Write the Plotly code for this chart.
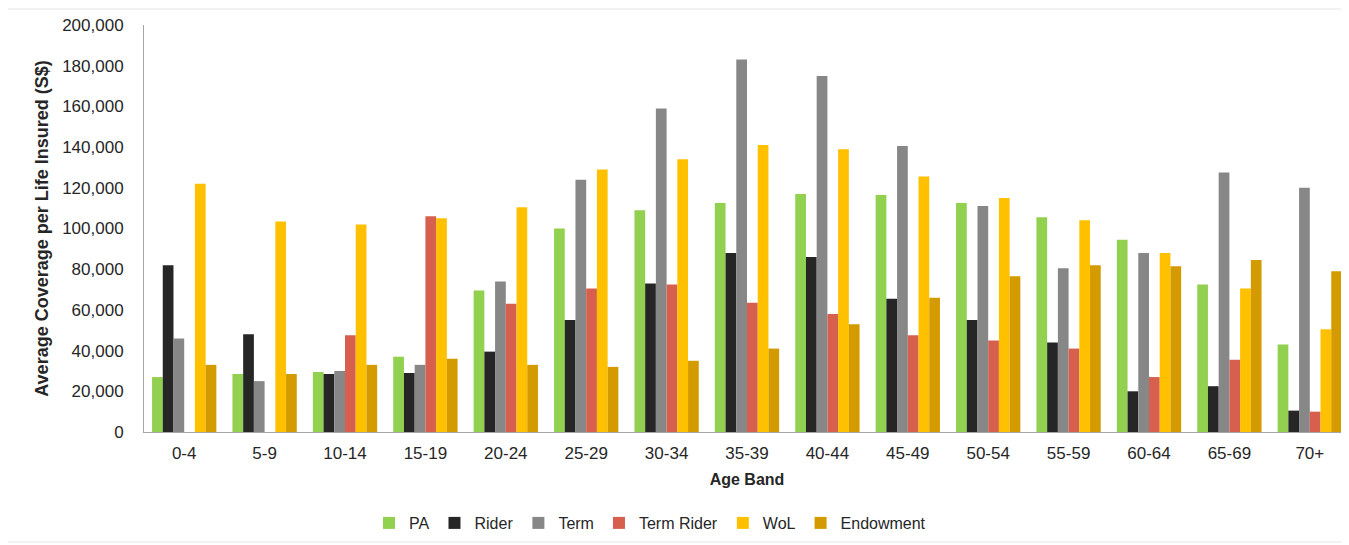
import plotly.graph_objects as go

age_bands = ["0-4", "5-9", "10-14", "15-19", "20-24", "25-29", "30-34", "35-39",
             "40-44", "45-49", "50-54", "55-59", "60-64", "65-69", "70+"]

pa = [27000, 28500, 29500, 37000, 69500, 100000, 109000, 112500, 117000, 116500,
      112500, 105500, 94500, 72500, 43000]
rider = [82000, 48000, 28500, 29000, 39500, 55000, 73000, 88000, 86000, 65500,
         55000, 44000, 20000, 22500, 10500]
term = [46000, 25000, 30000, 33000, 74000, 124000, 159000, 183000, 175000, 140500,
        111000, 80500, 88000, 127500, 120000]
term_rider = [0, 0, 47500, 106000, 63000, 70500, 72500, 63500, 58000, 47500,
              45000, 41000, 27000, 35500, 10000]
wol = [122000, 103500, 102000, 105000, 110500, 129000, 134000, 141000, 139000, 125500,
       115000, 104000, 88000, 70500, 50500]
endowment = [33000, 28500, 33000, 36000, 33000, 32000, 35000, 41000, 53000, 66000,
             76500, 82000, 81500, 84500, 79000]

y_ticks = [0, 20000, 40000, 60000, 80000, 100000, 120000, 140000, 160000, 180000, 200000]

series = [
    ("PA", pa, "#92D050"),
    ("Rider", rider, "#262626"),
    ("Term", term, "#878787"),
    ("Term Rider", term_rider, "#D6604D"),
    ("WoL", wol, "#FFC000"),
    ("Endowment", endowment, "#D39B00"),
]

fig = go.Figure()
for name, vals, col in series:
    fig.add_trace(go.Bar(name=name, x=age_bands, y=vals, marker=dict(color=col, line=dict(width=0))))

font_family = "Liberation Sans, Arial, sans-serif"
# the page body adds an 8px offset, so figure coordinates are window coordinates minus 8
OFF = 8
W, H = 1349, 545
L, T = 144 - OFF, 25 - OFF
pw, ph = 1206, 407
R = W - L - pw
B = H - T - ph

def py(win_y):
    return (T + ph - (win_y - OFF)) / ph

def px(win_x):
    return (win_x - OFF - L) / pw

fig.update_layout(
    width=W, height=H,
    barmode="group", bargap=0.2, bargroupgap=0,
    paper_bgcolor="white", plot_bgcolor="white",
    margin=dict(l=L, r=R, t=T, b=B, autoexpand=False),
    font=dict(family=font_family, size=16, color="#262626"),
    showlegend=True,
    legend=dict(orientation="h", x=px(650), xanchor="center",
                y=py(523), yanchor="middle",
                font=dict(size=16, color="#262626"), traceorder="normal"),
    xaxis=dict(
        automargin=False,
        showline=True, linecolor="#A6A6A6", linewidth=1,
        showgrid=False, ticks="", ticklabelstandoff=6,
        tickfont=dict(size=17, color="#262626"),
        title=dict(text="<b>Age Band</b>", font=dict(size=16, color="#262626"), standoff=11),
    ),
    yaxis=dict(
        automargin=False,
        range=[0, 200000], tickvals=y_ticks, tickformat=",d",
        showline=True, linecolor="#A6A6A6", linewidth=1,
        showgrid=False, ticks="", ticklabelstandoff=16, zeroline=False,
        tickfont=dict(size=17, color="#262626"),
        title=dict(text="<b>Average Coverage per Life Insured (S$)</b>",
                   font=dict(size=18, color="#262626"), standoff=8),
    ),
    shapes=[
        dict(type="line", xref="paper", yref="paper", x0=px(0), x1=px(1360), y0=py(9), y1=py(9),
             line=dict(color="#E6E6E6", width=1), layer="below"),
        dict(type="line", xref="paper", yref="paper", x0=px(0), x1=px(1360), y0=py(542), y1=py(542),
             line=dict(color="#E6E6E6", width=1), layer="below"),
    ],
)

fig.write_html("out.html")
